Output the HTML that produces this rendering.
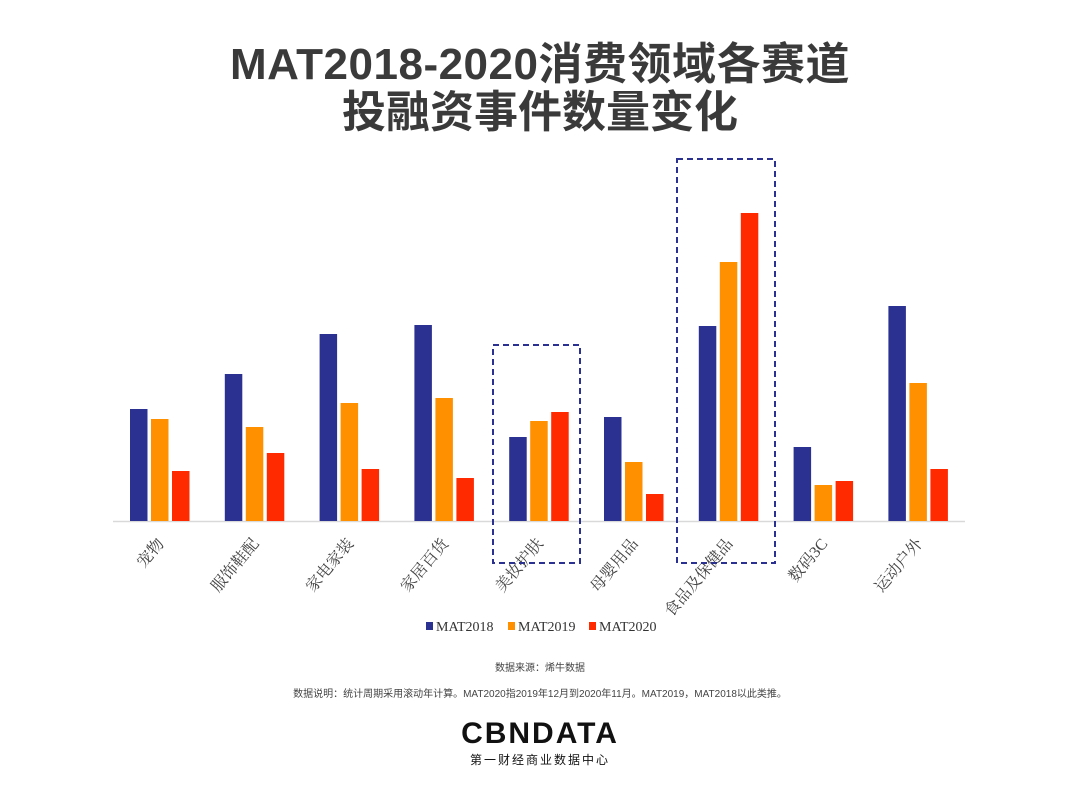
<!DOCTYPE html>
<html><head><meta charset="utf-8"><style>
body{margin:0;width:1080px;height:799px;background:#fff;overflow:hidden;font-family:"Liberation Sans","Noto Sans CJK SC",sans-serif}
</style></head><body>
<svg id="c" width="1080" height="799" xmlns="http://www.w3.org/2000/svg">
<text x="540" y="79" text-anchor="middle" font-size="44" font-weight="bold" fill="#3a3a3a" letter-spacing="0.5" font-family="Liberation Sans, Noto Sans CJK SC, sans-serif">MAT2018-2020消费领域各赛道</text>
<text x="540" y="127" text-anchor="middle" font-size="44" font-weight="bold" fill="#3a3a3a" font-family="Liberation Sans, Noto Sans CJK SC, sans-serif">投融资事件数量变化</text>
<line x1="113" y1="521.5" x2="965" y2="521.5" stroke="#d9d9d9" stroke-width="1.5"/>
<g id="bars"></g><g id="labels"></g>
<rect x="493" y="345" width="87" height="218" fill="none" stroke="#2b3190" stroke-width="2" stroke-dasharray="6,4"/>
<rect x="677" y="159" width="98" height="404" fill="none" stroke="#2b3190" stroke-width="2" stroke-dasharray="6,4"/>
<g font-family="Liberation Serif, Noto Serif CJK SC, serif" font-size="14" fill="#333">
<rect x="426" y="622" width="7" height="8" fill="#2b3190"/>
<text x="436" y="631">MAT2018</text>
<rect x="508" y="622" width="7" height="8" fill="#ff9100"/>
<text x="518" y="631">MAT2019</text>
<rect x="589" y="622" width="7" height="8" fill="#ff2a00"/>
<text x="599" y="631">MAT2020</text>
</g>
<text x="540" y="671" text-anchor="middle" font-size="10" fill="#444" font-family="Liberation Sans, Noto Sans CJK SC, sans-serif">数据来源：烯牛数据</text>
<text x="540" y="697" text-anchor="middle" font-size="10" fill="#444" font-family="Liberation Sans, Noto Sans CJK SC, sans-serif">数据说明：统计周期采用滚动年计算。MAT2020指2019年12月到2020年11月。MAT2019，MAT2018以此类推。</text>
<text x="540" y="743" text-anchor="middle" font-size="30" font-weight="bold" fill="#111" letter-spacing="2" font-family="Liberation Sans, sans-serif">CBNDATA</text>
<text x="540" y="764" text-anchor="middle" font-size="12" fill="#111" letter-spacing="2" font-family="Liberation Sans, Noto Sans CJK SC, sans-serif">第一财经商业数据中心</text>
</svg>
<script>
const categories=["宠物","服饰鞋配","家电家装","家居百货","美妆护肤","母婴用品","食品及保健品","数码3C","运动户外"];
const mat2018=[112,147,187,196,84,104,195,74,215];
const mat2019=[102,94,118,123,100,59,259,36,138];
const mat2020=[50,68,52,43,109,27,308,40,52];
const seriesNames=["MAT2018","MAT2019","MAT2020"];
const colors=["#2b3190","#ff9100","#ff2a00"];
const baseY=521, x0=130, groupW=94.8, barW=17.5, pitch=21;
const y=v=>baseY-v; 
const xs=(i,s)=>x0+i*groupW+s*pitch;
const ns="http://www.w3.org/2000/svg";
const bars=document.getElementById('bars'), labels=document.getElementById('labels');
[mat2018,mat2019,mat2020].forEach((arr,s)=>{
  arr.forEach((v,i)=>{
    const r=document.createElementNS(ns,'rect');
    r.setAttribute('x',xs(i,s));r.setAttribute('y',y(v));
    r.setAttribute('width',barW);r.setAttribute('height',baseY-y(v));
    r.setAttribute('fill',colors[s]);
    
    
    bars.appendChild(r);
  });
});
categories.forEach((c,i)=>{
  const t=document.createElementNS(ns,'text');
  const cx=xs(i,1)+barW/2+5, cy=544;
  t.setAttribute('x',cx);t.setAttribute('y',cy);
  t.setAttribute('text-anchor','end');
  t.setAttribute('font-size','16');
  t.setAttribute('fill','#444');
  t.setAttribute('font-family','Liberation Serif, Noto Serif CJK SC, serif');
  t.setAttribute('transform','rotate(-50 '+cx+' '+cy+')');
  t.textContent=c;
  
  
  labels.appendChild(t);
});
</script>
</body></html>
